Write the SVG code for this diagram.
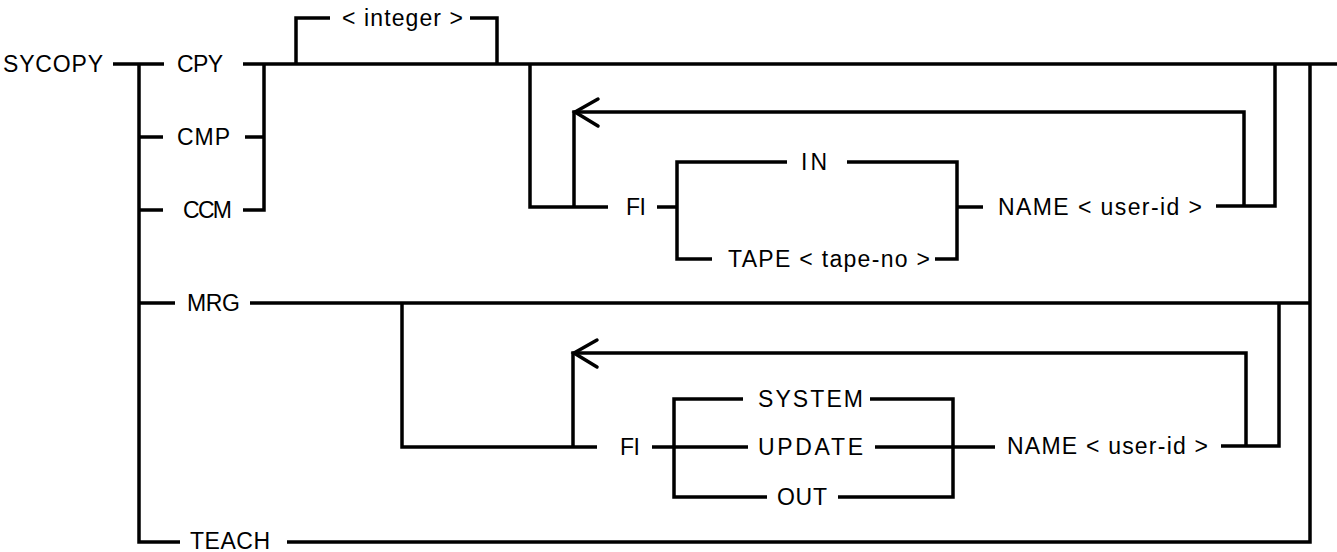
<svg xmlns="http://www.w3.org/2000/svg" width="1337" height="552" viewBox="0 0 1337 552">
<style>
.t{font-family:"Liberation Sans",Arial,sans-serif;font-size:23px;fill:#000}
.c{stroke:#000;stroke-width:3.5;fill:none;stroke-linejoin:miter;stroke-linecap:butt}
.a{stroke:#000;stroke-width:3.5;fill:none;stroke-linecap:round;stroke-linejoin:miter}
</style>
<rect width="1337" height="552" fill="#fff"/>
<g id="connectors">
  <path class="c" d="M113 64 H164"/>
  <path class="c" d="M139 64 V542 H180"/>
  <path class="c" d="M139 137 H163 M139 210 H163 M139 303 H175"/>
  <path class="c" d="M243 64 H1337"/>
  <path class="c" d="M245 137 H264 M243 210 H264 V64"/>
  <path class="c" d="M296 64 V18 H330 M470 18 H497 V64"/>
  <path class="c" d="M530 64 V207 H608"/>
  <path class="c" d="M574 207 V112 H1244 V206"/>
  <path class="a" d="M598 99 L575 112 L598 126"/>
  <path class="c" d="M657 207 H677 M787 162 H677 V259 H712"/>
  <path class="c" d="M847 162 H957 V259 H935 M957 207 H983"/>
  <path class="c" d="M1216 206 H1275 V64"/>
  <path class="c" d="M1310 64 V542 H287"/>
  <path class="c" d="M250 303 H1310"/>
  <path class="c" d="M402 303 V447 H597"/>
  <path class="c" d="M573 447 V353 H1246 V446"/>
  <path class="a" d="M597 340 L574 353 L597 367"/>
  <path class="c" d="M652 447 H748 M743 399 H674 V497 H767"/>
  <path class="c" d="M870 399 H953 V497 H838 M875 447 H995"/>
  <path class="c" d="M1221 446 H1279 V303"/>
</g>
<g id="n-sycopy"><text class="t" x="3" y="72" textLength="100">SYCOPY</text></g>
<g id="n-cpy"><text class="t" x="177" y="72" textLength="46">CPY</text></g>
<g id="n-cmp"><text class="t" x="177" y="145" textLength="53">CMP</text></g>
<g id="n-ccm"><text class="t" x="183" y="218" textLength="49">CCM</text></g>
<g id="n-integer"><text class="t" x="342" y="26" textLength="121">&lt; integer &gt;</text></g>
<g id="n-fi1"><text class="t" x="626" y="215" textLength="20">FI</text></g>
<g id="n-in"><text class="t" x="801" y="170" textLength="26">IN</text></g>
<g id="n-tape"><text class="t" x="728" y="267" textLength="202">TAPE &lt; tape-no &gt;</text></g>
<g id="n-name1"><text class="t" x="998" y="215" textLength="204">NAME &lt; user-id &gt;</text></g>
<g id="n-mrg"><text class="t" x="187" y="311" textLength="53">MRG</text></g>
<g id="n-fi2"><text class="t" x="620" y="455" textLength="20">FI</text></g>
<g id="n-system"><text class="t" x="758" y="407" textLength="105">SYSTEM</text></g>
<g id="n-update"><text class="t" x="758" y="455" textLength="105">UPDATE</text></g>
<g id="n-out"><text class="t" x="777" y="505" textLength="50">OUT</text></g>
<g id="n-name2"><text class="t" x="1007" y="454" textLength="201">NAME &lt; user-id &gt;</text></g>
<g id="n-teach"><text class="t" x="190" y="549" textLength="80">TEACH</text></g>
</svg>
